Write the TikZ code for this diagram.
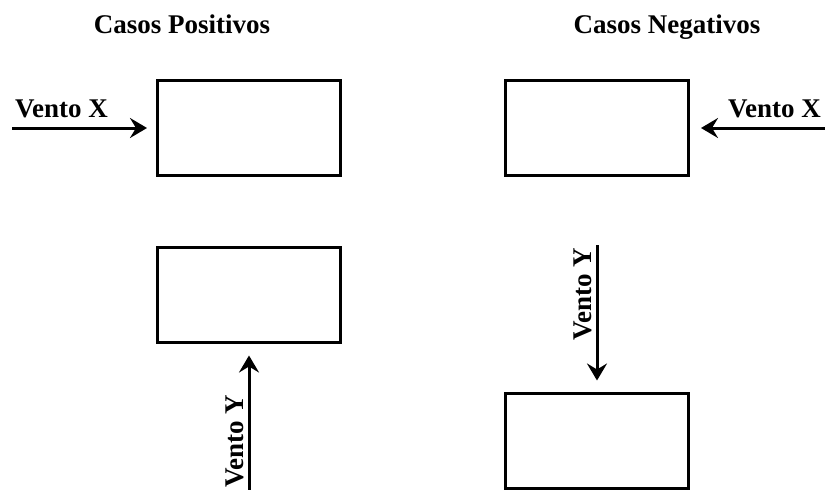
\documentclass[tikz,border=0pt]{standalone}
\usepackage{fontspec}
\setmainfont{Liberation Serif}
\usetikzlibrary{arrows.meta}
\begin{document}
\begin{tikzpicture}[x=1pt,y=-1pt,
  box/.style={draw, line width=3pt, minimum width=183pt, minimum height=95pt, inner sep=0pt},
  wind/.style={line width=3pt, -{Stealth[length=17pt,width=20pt,inset=6pt]}},
  lbl/.style={font=\fontsize{27}{27}\selectfont\bfseries, inner sep=0pt},
  ]
\useasboundingbox (0,0) rectangle (825,490);
\fill[white] (0,0) rectangle (825,490);
% titles
\node[lbl, anchor=base] (t1) at (182,33) {Casos Positivos};
\node[lbl, anchor=base] (t2) at (667,33) {Casos Negativos};
% boxes
\node[box] (b1) at (249,128) {};
\node[box] (b2) at (597,128) {};
\node[box] (b3) at (249,294.5) {};
\node[box] (b4) at (597,440.5) {};
% wind arrows
\coordinate (x1) at (12,128);
\coordinate (x2) at (825,128);
\coordinate (y1) at (249,492);
\coordinate (y2) at (597,245);
\draw[wind, shorten >=9pt] (x1) -- (b1.west);
\draw[wind, shorten >=11pt] (x2) -- (b2.east);
\draw[wind, shorten >=12pt] (y1) -- (b3.south);
\draw[wind, shorten >=11pt] (y2) -- (b4.north);
% labels
\node[lbl, anchor=base west] (lx1) at (15,117) {Vento X};
\node[lbl, anchor=base west] (lx2) at (728,117) {Vento X};
\node[lbl, anchor=base east, rotate=90] (ly1) at (243,395) {Vento Y};
\node[lbl, anchor=base east, rotate=90] (ly2) at (591,248) {Vento Y};
\end{tikzpicture}
\end{document}
